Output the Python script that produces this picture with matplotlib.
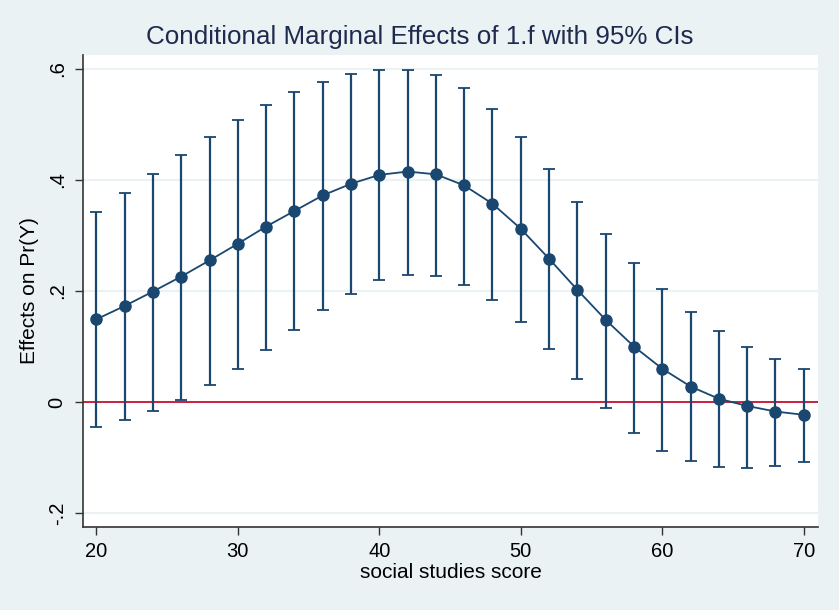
import numpy as np
import matplotlib.pyplot as plt

plt.rcParams["font.family"] = ["Liberation Sans", "DejaVu Sans"]

# social studies score values
score = [20, 22, 24, 26, 28, 30, 32, 34, 36, 38, 40, 42, 44,
         46, 48, 50, 52, 54, 56, 58, 60, 62, 64, 66, 68, 70]
# marginal effect of 1.f on Pr(Y)
effect = [0.149, 0.173, 0.199, 0.226, 0.255, 0.285, 0.316, 0.344, 0.372,
          0.393, 0.409, 0.415, 0.410, 0.390, 0.357, 0.312, 0.258, 0.202,
          0.148, 0.100, 0.060, 0.028, 0.006, -0.007, -0.017, -0.023]
ci_upper = [0.343, 0.377, 0.411, 0.445, 0.477, 0.508, 0.534, 0.558, 0.577,
            0.590, 0.597, 0.598, 0.588, 0.565, 0.528, 0.477, 0.420, 0.360,
            0.303, 0.250, 0.204, 0.163, 0.128, 0.099, 0.077, 0.060]
ci_lower = [-0.044, -0.032, -0.016, 0.004, 0.031, 0.060, 0.094, 0.130, 0.165,
            0.195, 0.219, 0.229, 0.227, 0.211, 0.184, 0.144, 0.095, 0.042,
            -0.010, -0.055, -0.088, -0.107, -0.117, -0.118, -0.115, -0.108]

yticks = [-0.2, 0, 0.2, 0.4, 0.6]
ytick_labels = ["-.2", "0", ".2", ".4", ".6"]
xticks = [20, 30, 40, 50, 60, 70]

bg = "#EAF2F3"
navy = "#1A476F"

fig = plt.figure(figsize=(8.39, 6.10), dpi=100, facecolor=bg)
ax = fig.add_axes([0.0993, 0.136, 0.8752, 0.774])
ax.set_facecolor("white")

eff = np.array(effect)
err = [eff - np.array(ci_lower), np.array(ci_upper) - eff]

ax.axhline(0, color="#C8102E", linewidth=1.3, zorder=1)
ax.errorbar(score, effect, yerr=err, fmt="none", ecolor=navy,
            elinewidth=1.6, capsize=4.5, capthick=1.3, zorder=2)
ax.plot(score, effect, color=navy, linewidth=1.3, marker="o",
        markersize=8, zorder=3)

ax.set_xlim(19.08, 70.98)
ax.set_ylim(-0.225, 0.625)
ax.set_xticks(xticks)
ax.set_yticks(yticks)
ax.set_yticklabels(ytick_labels, rotation=90, va="center")
ax.tick_params(axis="both", labelsize=14.5, length=6, width=1, color="#333333",
               direction="out")
ax.tick_params(axis="y", pad=6)
ax.tick_params(axis="x", pad=5)
ax.grid(axis="y", color=bg, linewidth=1.5, zorder=0)
ax.set_axisbelow(True)

for side in ["top", "right"]:
    ax.spines[side].set_visible(False)
for side in ["left", "bottom"]:
    ax.spines[side].set_color("#333333")
    ax.spines[side].set_linewidth(1.2)

ax.set_xlabel("social studies score", fontsize=15, labelpad=1)
ax.set_ylabel("Effects on Pr(Y)", fontsize=15, labelpad=6)
fig.text(0.5, 0.939, "Conditional Marginal Effects of 1.f with 95% CIs",
         fontsize=18.7, color="#1E2A4E", ha="center", va="center")

fig.savefig("out.png", dpi=100, facecolor=bg)
